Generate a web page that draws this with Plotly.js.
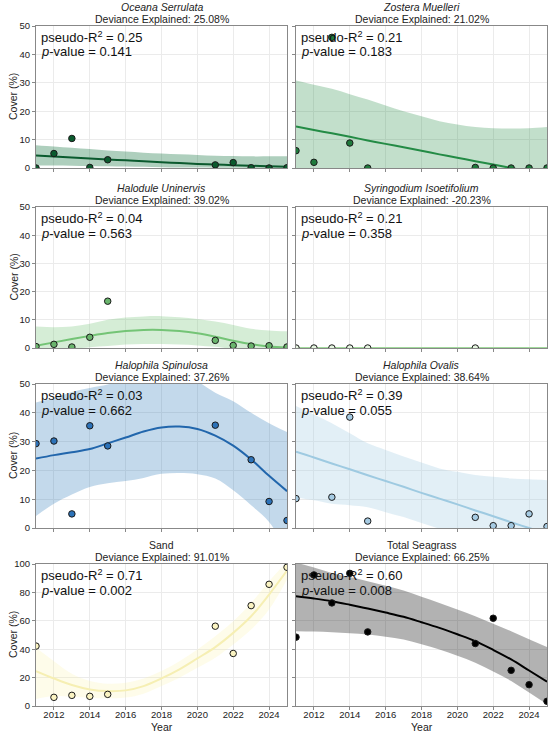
<!DOCTYPE html>
<html>
<head>
<meta charset="utf-8">
<script src="https://cdn.plot.ly/plotly-3.0.1.min.js"></script>
<style>html,body{margin:0;padding:0;background:#fff;}#chart{width:550px;height:733px;}</style>
</head>
<body>
<div id="chart"></div>
<script>
// ---- data ----
const fitYears = [2011,2012,2013,2014,2015,2016,2017,2018,2019,2020,2021,2022,2023,2024,2025];
const xTicks = [2012,2014,2016,2018,2020,2022,2024];

const oceanaYears = [2011,2012,2013,2014,2015,2021,2022,2023,2024,2025];
const oceanaCover = [0,5.1,10.4,0.2,2.9,1.1,1.9,0.1,0,0.1];
const oceanaFit   = [4.4,4.05,3.7,3.35,3.0,2.7,2.4,2.05,1.75,1.45,1.2,1.0,0.8,0.6,0.4];
const oceanaUpper = [8.0,7.55,7.1,6.65,6.2,5.8,5.4,5.1,4.8,4.55,4.3,4.2,4.1,4.1,4.1];
const oceanaLower = [0.9,0.85,0.8,0.7,0.6,0.5,0.4,0.3,0.2,0.15,0.1,0.05,0,0,0];

const zosteraYears = [2011,2012,2013,2014,2015,2021,2022,2023,2024,2025];
const zosteraCover = [6.1,2.0,46.0,8.8,0,0.2,0,0,0,0];
const zosteraFit   = [14.6,13.4,12.2,11.0,9.7,8.5,7.3,6.1,4.8,3.6,2.4,1.2,0,-1.2,-2.4];
const zosteraUpper = [30.8,29.3,27.9,26.0,24.1,22.0,20.0,18.2,16.5,15.3,14.4,14.0,13.9,14.0,14.4];
const zosteraLower = [-1.6,-2.5,-3.5,-4,-4.7,-5,-5.4,-6,-6.9,-8,-9.6,-11.6,-13.9,-16.4,-19.2];

const haloduleYears = [2011,2012,2013,2014,2015,2021,2022,2023,2024,2025];
const haloduleCover = [0.5,1.3,0.35,3.8,16.6,2.7,0.9,0.7,0.8,0.35];
const haloduleFit   = [0.8,2.0,3.2,4.3,5.3,6.0,6.4,6.4,6.0,5.2,4.0,2.6,1.4,0.5,0.1];
const haloduleUpper = [7.6,7.4,7.6,8.6,10.0,10.8,11.2,11.3,10.9,10.3,9.4,8.2,6.8,6.2,5.9];
const haloduleLower = [-0.5,-0.5,-0.3,0.3,0.7,1.2,1.4,1.4,1.2,0.9,0.4,-0.3,-0.5,-0.5,-0.5];

const syringYears = [2011,2012,2013,2014,2015,2021];
const syringCover = [0,0,0,0,0,0];
const syringFit   = [0,0,0,0,0,0,0,0,0,0,0,0,0,0,0];

const spinYears = [2011,2012,2013,2014,2015,2021,2023,2024,2025];
const spinCover = [29.3,30.2,4.9,35.5,28.5,35.7,23.7,9.2,2.6];
const spinFit   = [24.1,25.3,26.3,27.4,29.4,31.4,33.5,34.9,35.2,34.4,32.1,28.6,23.8,18.1,12.8];
const spinUpper = [43.6,45.1,47.2,48.6,49.8,52,54,55,55,51,47,44,40,36.4,33.3];
const spinLower = [4.2,8.4,11.6,14.2,15.5,16.3,17.4,18.8,19.1,18.7,17.2,13.1,7.9,2.1,-8];

const ovalisYears = [2011,2013,2014,2015,2021,2022,2023,2024,2025];
const ovalisCover = [10.2,10.7,38.5,2.4,3.7,0.8,0.8,4.9,0.5];
const ovalisFit   = [26.5,24.5,22.4,20.4,18.3,16.3,14.3,12.2,10.2,8.2,6.1,4.1,2.0,0,-2.0];
const ovalisUpper = [42.4,39.4,36.4,32.9,29.4,27.1,24.8,22.7,20.7,19.5,18.4,17.8,17.2,16.9,16.6];
const ovalisLower = [10.6,9.6,8.4,7.9,7.2,5.5,3.8,1.7,-0.3,-3.1,-6.2,-9.6,-13.2,-16.9,-20.6];

const sandYears = [2011,2012,2013,2014,2015,2021,2022,2023,2024,2025];
const sandCover = [42.2,6.1,7.5,6.8,8.2,56.2,37.0,70.7,85.7,97.7];
const sandFit   = [24.6,19.4,14.8,11.7,10.5,11.0,14.0,19.4,25.8,33.5,41.5,51.5,63.2,78.5,95.3];
const sandUpper = [41,31.6,22.7,17.6,15.7,16.4,19.4,24.6,31.6,39.8,49.2,59.7,72.6,87.8,101.8];
const sandLower = [5,7,6.5,5.8,5.4,5.9,8.7,14.0,19.9,26.9,34.0,43.3,53.9,67.9,89];

const totalYears = [2011,2012,2013,2014,2015,2021,2022,2023,2024,2025];
const totalCover = [48.5,92.3,72.6,93.4,52.2,44.0,61.8,25.1,15.0,3.3];
const totalFit   = [77.3,75.7,73.8,71.3,68.6,65.8,62.8,59.0,55.0,50.5,45.7,39.5,32.8,25.0,17.1];
const totalUpper = [101,97.5,93.7,90.8,87.8,84.6,81.3,77.0,72.6,68.0,63.2,58.0,52.7,47.0,41.5];
const totalLower = [52.7,52.4,52.0,51.3,50.4,48.8,46.8,43.5,39.8,35.3,30.4,24.3,17.6,9.5,1.2];

const titles = ["<i>Oceana Serrulata</i>","<i>Zostera Muelleri</i>","<i>Halodule Uninervis</i>","<i>Syringodium Isoetifolium</i>",
                "<i>Halophila Spinulosa</i>","<i>Halophila Ovalis</i>","Sand","Total Seagrass"];
const deviance = ["25.08%","21.02%","39.02%","-20.23%","37.26%","38.64%","91.01%","66.25%"];
const pseudoR2 = ["0.25","0.21","0.04","0.21","0.03","0.39","0.71","0.60"];
const pValues  = ["0.141","0.183","0.563","0.358","0.662","0.055","0.002","0.008"];
const xTitle = "Year";
const yTitle = "Cover (%)";

// ---- styles ----
const panels = [
  {yr:oceanaYears, v:oceanaCover, fit:oceanaFit, up:oceanaUpper, lo:oceanaLower, line:'#0b5a2e', band:'rgba(10,110,55,0.33)', mk:'#0b5a2e'},
  {yr:zosteraYears, v:zosteraCover, fit:zosteraFit, up:zosteraUpper, lo:zosteraLower, line:'#238b45', band:'rgba(35,139,69,0.28)', mk:'#1f7a3c'},
  {yr:haloduleYears, v:haloduleCover, fit:haloduleFit, up:haloduleUpper, lo:haloduleLower, line:'#74c476', band:'rgba(116,196,118,0.3)', mk:'#6ab56d'},
  {yr:syringYears, v:syringCover, fit:syringFit, up:null, lo:null, line:'#a1d99b', band:null, mk:'#e5f5e0'},
  {yr:spinYears, v:spinCover, fit:spinFit, up:spinUpper, lo:spinLower, line:'#2166ac', band:'rgba(33,113,181,0.27)', mk:'#2c72b8'},
  {yr:ovalisYears, v:ovalisCover, fit:ovalisFit, up:ovalisUpper, lo:ovalisLower, line:'#9ecae1', band:'rgba(158,202,225,0.3)', mk:'#a6cbe3'},
  {yr:sandYears, v:sandCover, fit:sandFit, up:sandUpper, lo:sandLower, line:'#f6efb3', band:'rgba(250,240,160,0.22)', mk:'#fbf4c2'},
  {yr:totalYears, v:totalCover, fit:totalFit, up:totalUpper, lo:totalLower, line:'#000000', band:'rgba(0,0,0,0.3)', mk:'#000000'}
];

const W = 550, H = 733;
const colX = [[36,287],[296,547]];
const rowY = [[26,168],[207,348],[384,528],[564,706]];

const traces = [];
const layout = {
  width: W, height: H, margin:{l:0,r:0,t:0,b:0},
  paper_bgcolor:'#fff', plot_bgcolor:'#fff', showlegend:false,
  font:{family:'"Liberation Sans", Arial, sans-serif', color:'#222', size:10},
  annotations:[]
};

panels.forEach((p, i) => {
  const n = i + 1;
  const xa = n === 1 ? 'x' : 'x' + n;
  const ya = n === 1 ? 'y' : 'y' + n;
  const row = Math.floor(i / 2), col = i % 2;
  const bottom = row === 3;
  if (p.up) {
    traces.push({x:fitYears, y:p.lo, xaxis:xa, yaxis:ya, mode:'lines', line:{width:0, shape:'spline', color:p.band}, hoverinfo:'skip'});
    traces.push({x:fitYears, y:p.up, xaxis:xa, yaxis:ya, mode:'lines', fill:'tonexty', fillcolor:p.band, line:{width:0, shape:'spline', color:p.band}, hoverinfo:'skip'});
  }
  traces.push({x:fitYears, y:p.fit, xaxis:xa, yaxis:ya, mode:'lines', line:{width:2, shape:'spline', color:p.line}});
  traces.push({x:p.yr, y:p.v, xaxis:xa, yaxis:ya, mode:'markers', marker:{size:6.5, color:p.mk, line:{width:1, color:'#1a1a1a'}}});

  const axx = {
    domain:[colX[col][0]/W, colX[col][1]/W], anchor:ya, range:[2011,2025],
    tickvals:xTicks, showticklabels:bottom, ticks:'outside', ticklen:3, tickcolor:'#888',
    ticklabelstandoff:-3,
    showgrid:true, gridcolor:'#ebebeb', gridwidth:1, zeroline:false,
    showline:true, linecolor:'#888', linewidth:1, mirror:true,
    tickfont:{size:9.5, color:'#222'}
  };
  const ymax = bottom ? 100 : 50;
  const axy = {
    domain:[1 - rowY[row][1]/H, 1 - rowY[row][0]/H], anchor:xa, range:[0, ymax],
    dtick: bottom ? 20 : 10, showticklabels: col === 0, ticks:'outside', ticklen:3, tickcolor:'#888',
    showgrid:true, gridcolor:'#ebebeb', gridwidth:1, zeroline:false,
    showline:true, linecolor:'#888', linewidth:1, mirror:true,
    tickfont:{size:9.5, color:'#222'}
  };
  layout['xaxis' + (n === 1 ? '' : n)] = axx;
  layout['yaxis' + (n === 1 ? '' : n)] = axy;

  if (bottom) {
    layout.annotations.push({xref:xa + ' domain', yref:'paper', x:0.5, y:1 - 727/H, xanchor:'center', yanchor:'middle',
      showarrow:false, text:xTitle, font:{size:10.5, color:'#222'}});
  }
  if (col === 0) {
    layout.annotations.push({xref:'paper', yref:ya + ' domain', x:13/W, y:0.5, xanchor:'center', yanchor:'middle',
      textangle:-90, showarrow:false, text:yTitle, font:{size:10.5, color:'#222'}});
  }

  layout.annotations.push({xref:xa + ' domain', yref:ya + ' domain', x:0.5, y:1, xanchor:'center', yanchor:'middle',
    yshift:7, showarrow:false, text:'Deviance Explained: ' + deviance[i], font:{size:10.5, color:'#222'}});
  layout.annotations.push({xref:xa + ' domain', yref:ya + ' domain', x:0.5, y:1, xanchor:'center', yanchor:'middle',
    yshift:19, showarrow:false, text:titles[i], font:{size:10.5, color:'#222'}});
  layout.annotations.push({xref:xa + ' domain', yref:ya + ' domain', x:0, y:1, xanchor:'left', yanchor:'middle',
    xshift:3, yshift:-11, align:'left', showarrow:false,
    text:'pseudo-R<sup>2</sup> = ' + pseudoR2[i], font:{size:13, color:'#111'}});
  layout.annotations.push({xref:xa + ' domain', yref:ya + ' domain', x:0, y:1, xanchor:'left', yanchor:'middle',
    xshift:3, yshift:-26, align:'left', showarrow:false,
    text:'<i>p</i>-value = ' + pValues[i], font:{size:13, color:'#111'}});
});

Plotly.newPlot('chart', traces, layout, {staticPlot:true});
</script>
</body>
</html>
